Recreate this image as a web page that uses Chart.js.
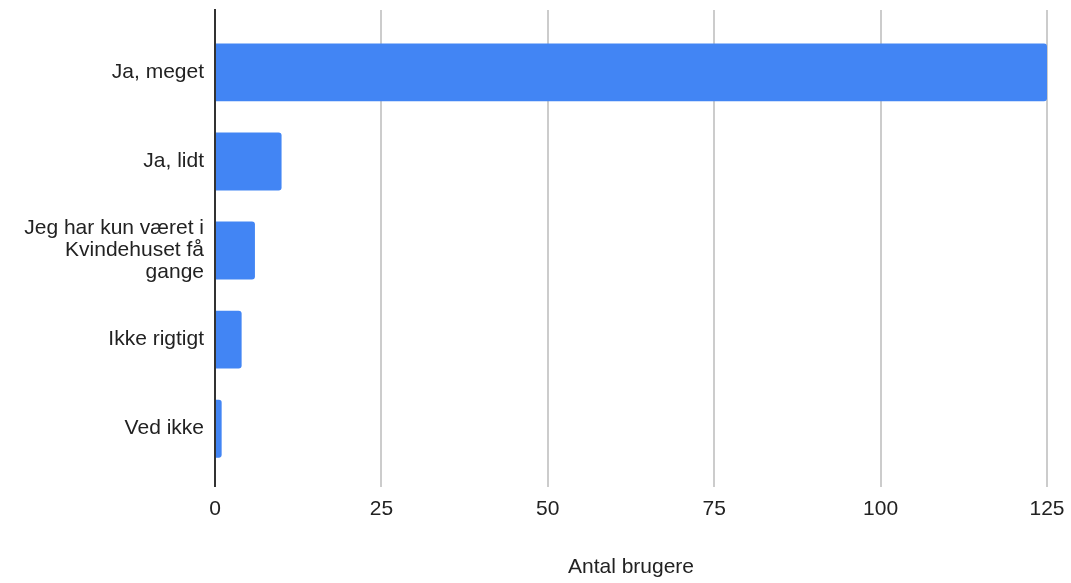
<!DOCTYPE html>
<html>
<head>
<meta charset="utf-8">
<script src="https://cdn.jsdelivr.net/npm/chart.js@4"></script>
<style>
  html, body { margin: 0; padding: 0; background: #fff; }
  #wrap { width: 1071px; height: 583px; }
</style>
</head>
<body>
<div id="wrap"><canvas id="myChart"></canvas></div>
<script>
// categories and values
const labels = [
    'Ja, meget',
    'Ja, lidt',
    ['Jeg har kun været i', 'Kvindehuset få', 'gange'],
    'Ikke rigtigt',
    'Ved ikke'
];
const values = [125, 10, 6, 4, 1];
const xTicks = [0, 25, 50, 75, 100, 125];

Chart.defaults.font.family = "'Liberation Sans', Arial, sans-serif";
Chart.defaults.color = '#222';

// index axis is linear so the categories can sit inside a padded range
const points = values.map((v, i) => ({ x: v, y: i }));

const data = {
    datasets: [{
        label: 'Antal brugere',
        backgroundColor: '#4285f4',
        data: points,
        borderRadius: { topRight: 3, bottomRight: 3 },
        borderSkipped: false,
        categoryPercentage: 1,
        barPercentage: 0.65
    }]
};

const config = {
    type: 'bar',
    data: data,
    options: {
        indexAxis: 'y',
        responsive: true,
        maintainAspectRatio: false,
        animation: false,
        layout: { padding: { top: 10, right: 24, bottom: 3 } },
        plugins: {
            legend: { display: false },
            tooltip: { enabled: false }
        },
        scales: {
            x: {
                type: 'linear',
                min: 0,
                max: 125,
                afterBuildTicks: (axis) => {
                    axis.ticks = xTicks.map(v => ({ value: v }));
                },
                grid: { color: '#cccccc', lineWidth: 2, drawTicks: false },
                border: { display: false },
                ticks: { padding: 10, font: { size: 21 }, color: '#222' },
                title: {
                    display: true,
                    text: 'Antal brugere',
                    font: { size: 21 },
                    color: '#222',
                    padding: { top: 23, bottom: 0 }
                },
                afterFit: (axis) => { axis.paddingLeft = 0; axis.paddingRight = 0; }
            },
            y: {
                type: 'linear',
                reverse: true,
                offset: false,
                min: -0.70,
                max: 4.65,
                afterBuildTicks: (axis) => {
                    axis.ticks = labels.map((l, i) => ({ value: i }));
                },
                grid: { display: false, drawTicks: false, offset: false },
                border: { display: true, color: '#333', width: 2 },
                ticks: {
                    padding: 11,
                    font: { size: 21, lineHeight: 1.05 },
                    color: '#222',
                    callback: (v) => labels[v]
                },
                afterFit: (axis) => {
                    axis.width = 215;
                    axis.paddingTop = 0;
                    axis.paddingBottom = 0;
                }
            }
        }
    }
};

let myChart = new Chart(document.getElementById('myChart'), config);
</script>
</body>
</html>
